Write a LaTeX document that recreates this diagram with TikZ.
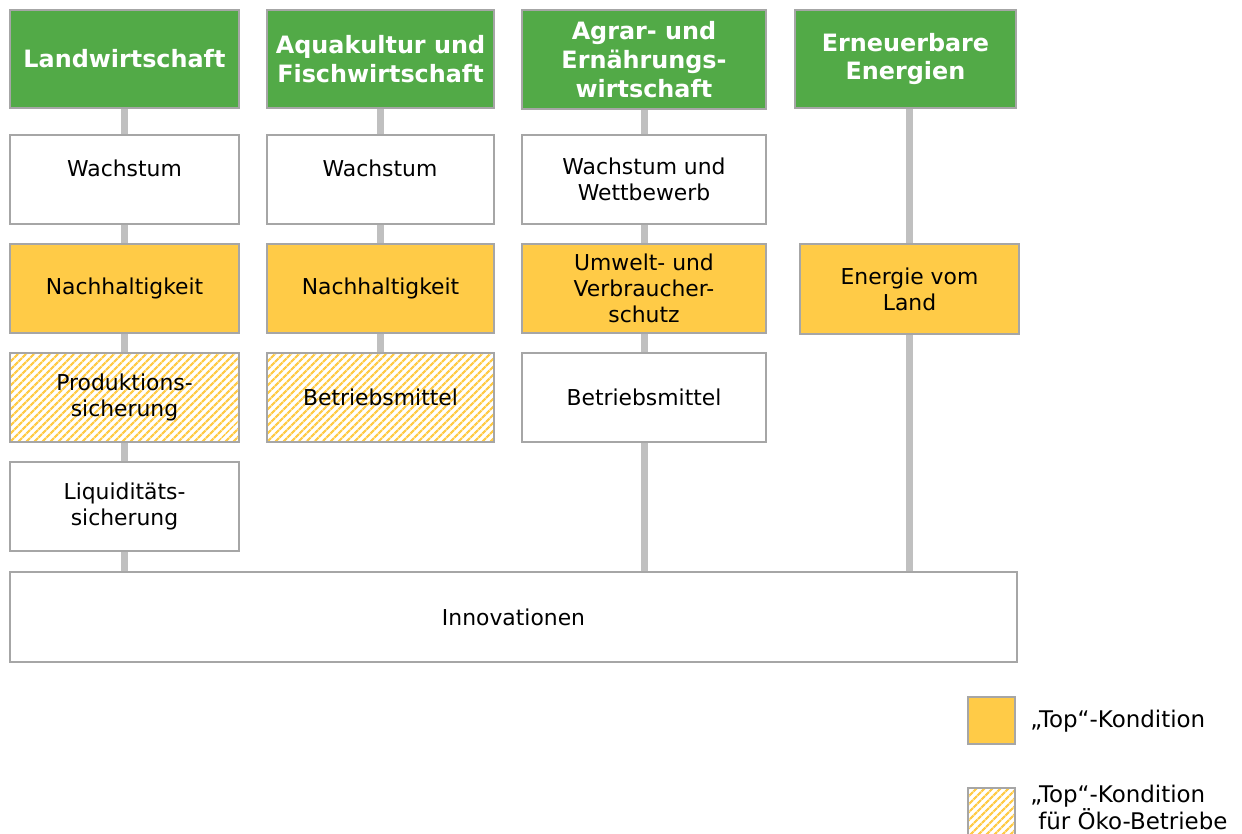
\documentclass[tikz,border=0pt]{standalone}
\usepackage{fontspec}
\setmainfont{DejaVu Sans}
\usetikzlibrary{patterns.meta,backgrounds}
\definecolor{hgreen}{HTML}{52AA47}
\definecolor{topyel}{HTML}{FFCB47}
\definecolor{bgray}{HTML}{A6A6A6}
\definecolor{cgray}{HTML}{C0C0C0}
\begin{document}
\begin{tikzpicture}[x=0.75pt,y=-0.75pt,
  base/.style={draw=bgray, line width=1.5pt, align=center, inner sep=0pt,
    font=\fontsize{16.4}{19.5}\selectfont, text=black, minimum height=66.75pt},
  head/.style={base, fill=hgreen, text=white, minimum height=73.5pt,
    font=\bfseries\fontsize{17.9}{21.5}\selectfont},
  plainbox/.style={base, fill=white},
  topbox/.style={base, fill=topyel},
  oekobox/.style={base, preaction={fill=white},
    pattern={Lines[angle=45,distance=4pt,line width=1.8pt]}, pattern color=topyel},
  conn/.style={draw=cgray, line width=5.25pt},
  cola/.style={minimum width=171.75pt},
  colb/.style={minimum width=170.25pt},
  colc/.style={minimum width=183pt},
  legtext/.style={anchor=west, align=left, inner sep=0pt, font=\fontsize{17.2}{18.75}\selectfont}
]
\useasboundingbox (0,0) rectangle (1242,834);
\begin{scope}[on background layer]
  \fill[white] (0,0) rectangle (1242,834);
\end{scope}

% Column 1
\node[head, cola] (h1) at (124.5,59) {Landwirtschaft};
\node[plainbox, cola] (w1) at (124.5,179.5) {Wachstum\\[-8pt]\strut};
\node[topbox, cola] (n1) at (124.5,288.5) {Nachhaltigkeit};
\node[oekobox, cola] (p1) at (124.5,397.5) {Produktions-\\sicherung};
\node[plainbox, cola] (l1) at (124.5,506.5) {Liquiditäts-\\sicherung};

% Column 2
\node[head, colb] (h2) at (380.5,59) {Aquakultur und\\Fischwirtschaft};
\node[plainbox, colb] (w2) at (380,179.5) {Wachstum\\[-8pt]\strut};
\node[topbox, colb] (n2) at (380.5,288.5) {Nachhaltigkeit};
\node[oekobox, colb] (b2) at (380.5,397.5) {Betriebsmittel};

% Column 3
\node[head, colc, minimum height=74.25pt] (h3) at (644,59.5) {Agrar- und\\Ernährungs-\\wirtschaft};
\node[plainbox, colc] (w3) at (644,179.5) {Wachstum und\\Wettbewerb};
\node[topbox, colc] (u3) at (644,288.5) {Umwelt- und\\Verbraucher-\\schutz};
\node[plainbox, colc] (b3) at (644,397.5) {Betriebsmittel};

% Column 4
\node[head, minimum width=165.75pt] (h4) at (905.5,59) {Erneuerbare\\Energien};
\node[topbox, minimum width=164.25pt, minimum height=67.5pt] (e4) at (909.5,289) {Energie vom\\Land};

% Innovationen
\node[plainbox, minimum width=755.25pt, minimum height=67.5pt] (inn) at (513.5,617) {Innovationen};

% Legend
\node[topbox, minimum width=35.25pt, minimum height=35.25pt] (lg1) at (991.5,720) {};
\node[oekobox, minimum width=35.25pt, minimum height=35.25pt] (lg2) at (991.5,811) {};
\node[legtext] (lt1) at (1030,721) {„Top“-Kondition};
\node[legtext] (lt2) at (1030,807) {„Top“-Kondition\\\hspace*{0.35em}für Öko-Betriebe};

% Connectors
\begin{scope}[on background layer]
  \draw[conn] (h1.south) -- (w1.north);
  \draw[conn] (w1.south) -- (n1.north);
  \draw[conn] (n1.south) -- (p1.north);
  \draw[conn] (p1.south) -- (l1.north);
  \draw[conn] (l1.south) -- (inn.north -| l1.south);
  \draw[conn] (h2.south) -- (w2.north -| h2.south);
  \draw[conn] (w2.south -| n2.north) -- (n2.north);
  \draw[conn] (n2.south) -- (b2.north);
  \draw[conn] (h3.south) -- (w3.north);
  \draw[conn] (w3.south) -- (u3.north);
  \draw[conn] (u3.south) -- (b3.north);
  \draw[conn] (b3.south) -- (inn.north -| b3.south);
  \draw[conn] (h4.south -| e4.north) -- (e4.north);
  \draw[conn] (e4.south) -- (inn.north -| e4.south);
\end{scope}
\end{tikzpicture}
\end{document}
